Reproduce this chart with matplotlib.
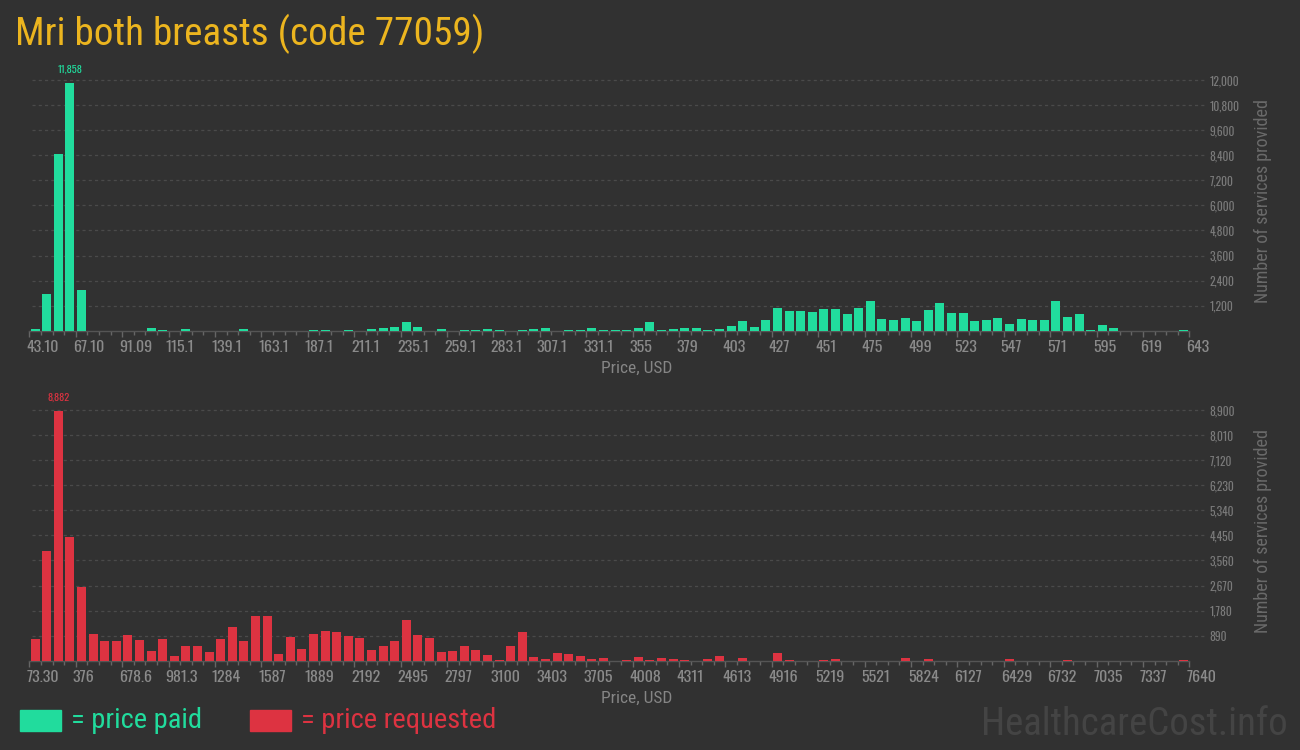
import numpy as np
import matplotlib
matplotlib.use('Agg')
import matplotlib.pyplot as plt
from matplotlib import font_manager
from matplotlib.transforms import ScaledTranslation

# Data: counts per price bin (100 bins each)
paid_counts = [80, 1744, 8464, 11858, 1936, 0, 0, 0, 0, 0,
               144, 48, 0, 96, 0, 0, 0, 0, 96, 0,
               0, 0, 0, 0, 48, 48, 0, 32, 0, 64,
               112, 160, 400, 160, 0, 64, 0, 32, 32, 64,
               32, 0, 32, 64, 112, 0, 32, 32, 112, 32,
               32, 32, 112, 400, 32, 80, 128, 128, 32, 80,
               224, 463, 176, 511, 1072, 928, 928, 880, 1024, 1024,
               784, 1072, 1408, 544, 496, 592, 448, 976, 1312, 832,
               832, 448, 496, 592, 304, 544, 496, 496, 1408, 640,
               784, 16, 256, 112, 0, 0, 0, 0, 0, 16]
requested_counts = [782, 3899, 8882, 4408, 2619, 948, 699, 699, 912, 735,
                    344, 770, 166, 521, 521, 308, 770, 1197, 699, 1588,
                    1588, 237, 841, 415, 948, 1055, 1010, 889, 818, 391,
                    533, 711, 1458, 924, 818, 320, 356, 533, 391, 213,
                    20, 533, 1010, 142, 40, 284, 249, 178, 40, 107,
                    0, 20, 142, 20, 107, 71, 20, 0, 40, 178,
                    0, 107, 0, 0, 272, 24, 0, 0, 24, 59,
                    0, 0, 0, 0, 0, 95, 0, 59, 0, 0,
                    0, 0, 0, 0, 59, 0, 0, 0, 0, 24,
                    0, 0, 0, 0, 0, 0, 0, 0, 0, 24]
paid_range = (43.10, 643.0)
requested_range = (73.30, 7640.0)
paid_xlabels = ['43.10', '67.10', '91.09', '115.1', '139.1', '163.1', '187.1', '211.1',
                '235.1', '259.1', '283.1', '307.1', '331.1', '355', '379', '403', '427',
                '451', '475', '499', '523', '547', '571', '595', '619', '643']
requested_xlabels = ['73.30', '376', '678.6', '981.3', '1284', '1587', '1889', '2192',
                     '2495', '2797', '3100', '3403', '3705', '4008', '4311', '4613', '4916',
                     '5219', '5521', '5824', '6127', '6429', '6732', '7035', '7337', '7640']
paid_yticks = [1200, 2400, 3600, 4800, 6000, 7200, 8400, 9600, 10800, 12000]
requested_yticks = [890, 1780, 2670, 3560, 4450, 5340, 6230, 7120, 8010, 8900]

BG = '#313131'
GREEN = '#21dc9d'
RED = '#dd3341'
GOLD = '#ecb51f'

names = {f.name for f in font_manager.fontManager.ttflist}


def pick(*cands):
    for c in cands:
        if c in names:
            return c
    return 'DejaVu Sans'


COND = pick('Roboto Condensed', 'Roboto')
TICK = pick('Oswald', 'Pathway Gothic One', 'Roboto Condensed')

W, H = 1300, 750
fig = plt.figure(figsize=(13, 7.5), dpi=100, facecolor=BG)


def fx(px):
    return px / W


def fy(py):
    return 1 - py / H


def draw_panel(top_px, counts, xr, xlabels, yticks, color):
    left, right, base = 29.3, 1189.3, top_px + 250.3
    ax = fig.add_axes([fx(left), fy(base), fx(right) - fx(left), (base - top_px) / H])
    ax.set_facecolor(BG)
    n = len(counts)
    edges = np.linspace(xr[0], xr[1], n + 1)
    width = edges[1] - edges[0]
    centers = edges[:-1] + width / 2
    ax.bar(centers, counts, width=width * 0.78, color=color, zorder=3)
    ax.set_xlim(xr)
    ax.set_ylim(0, yticks[-1])
    for s in ['top', 'right', 'left']:
        ax.spines[s].set_visible(False)
    ax.spines['bottom'].set_color('#555555')
    ax.spines['bottom'].set_linewidth(1)
    for yv in yticks:
        ax.axhline(yv, xmin=0.002, xmax=1.0145, color='#4a4a4a', lw=0.9,
                   ls=(0, (2.5, 2.5)), clip_on=False, zorder=1)
    # x ticks at every bin edge, labels every 4th
    ax.set_xticks(edges[::4])
    ax.set_xticklabels(xlabels, fontfamily=TICK, fontweight='light', fontsize=11.5,
                       color='#8a8a8a', ha='left')
    ax.set_xticks(edges, minor=True)
    ax.tick_params(axis='x', which='both', direction='out', color='#666666', length=4, width=1, pad=3)
    ax.tick_params(axis='x', which='minor', length=3)
    off = ScaledTranslation(-3 / 100, 0, fig.dpi_scale_trans)
    for lab in ax.get_xticklabels():
        lab.set_transform(lab.get_transform() + off)
    # y ticks on right
    ax.yaxis.tick_right()
    ax.set_yticks(yticks)
    ax.set_yticklabels([f'{v:,}' for v in yticks], fontfamily=TICK, fontweight='light',
                       fontsize=8.3, color='#7a7a7a')
    ax.tick_params(axis='y', length=0, pad=14.4)
    # peak label
    i = int(np.argmax(counts))
    ax.annotate(f'{counts[i]:,}', (centers[i], counts[i]), xytext=(0, 6), textcoords='offset points',
                ha='center', va='bottom', fontfamily=TICK, fontsize=7.5, color=color)
    fig.text(fx(1263), fy(top_px + 121), 'Number of services provided', rotation=90,
             ha='center', va='center', fontfamily=COND, fontsize=13, color='#6a6a6a')
    fig.text(fx(637), fy(base + 38), 'Price, USD', ha='center', va='center',
             fontfamily=COND, fontsize=12.5, color='#858585')
    return ax


draw_panel(80.3, paid_counts, paid_range, paid_xlabels, paid_yticks, GREEN)
draw_panel(410.3, requested_counts, requested_range, requested_xlabels, requested_yticks, RED)

fig.text(fx(15), fy(45), 'Mri both breasts (code 77059)', fontfamily=COND, fontsize=28.3,
         color=GOLD, va='baseline')

# legend
fig.patches.append(plt.Rectangle((fx(20), fy(731)), fx(41), 21 / H, transform=fig.transFigure,
                                 color=GREEN))
fig.text(fx(71), fy(720), '= price paid', fontfamily=COND, fontsize=20.5, color=GREEN, va='center')
fig.patches.append(plt.Rectangle((fx(250), fy(731)), fx(41), 21 / H, transform=fig.transFigure,
                                 color=RED))
fig.text(fx(301), fy(720), '= price requested', fontfamily=COND, fontsize=20.5, color=RED, va='center')

fig.text(fx(1288), fy(735), 'HealthcareCost.info', fontfamily=COND, fontsize=28,
         color='#444444', ha='right', va='baseline')

fig.savefig('out.png', dpi=100, facecolor=BG)
